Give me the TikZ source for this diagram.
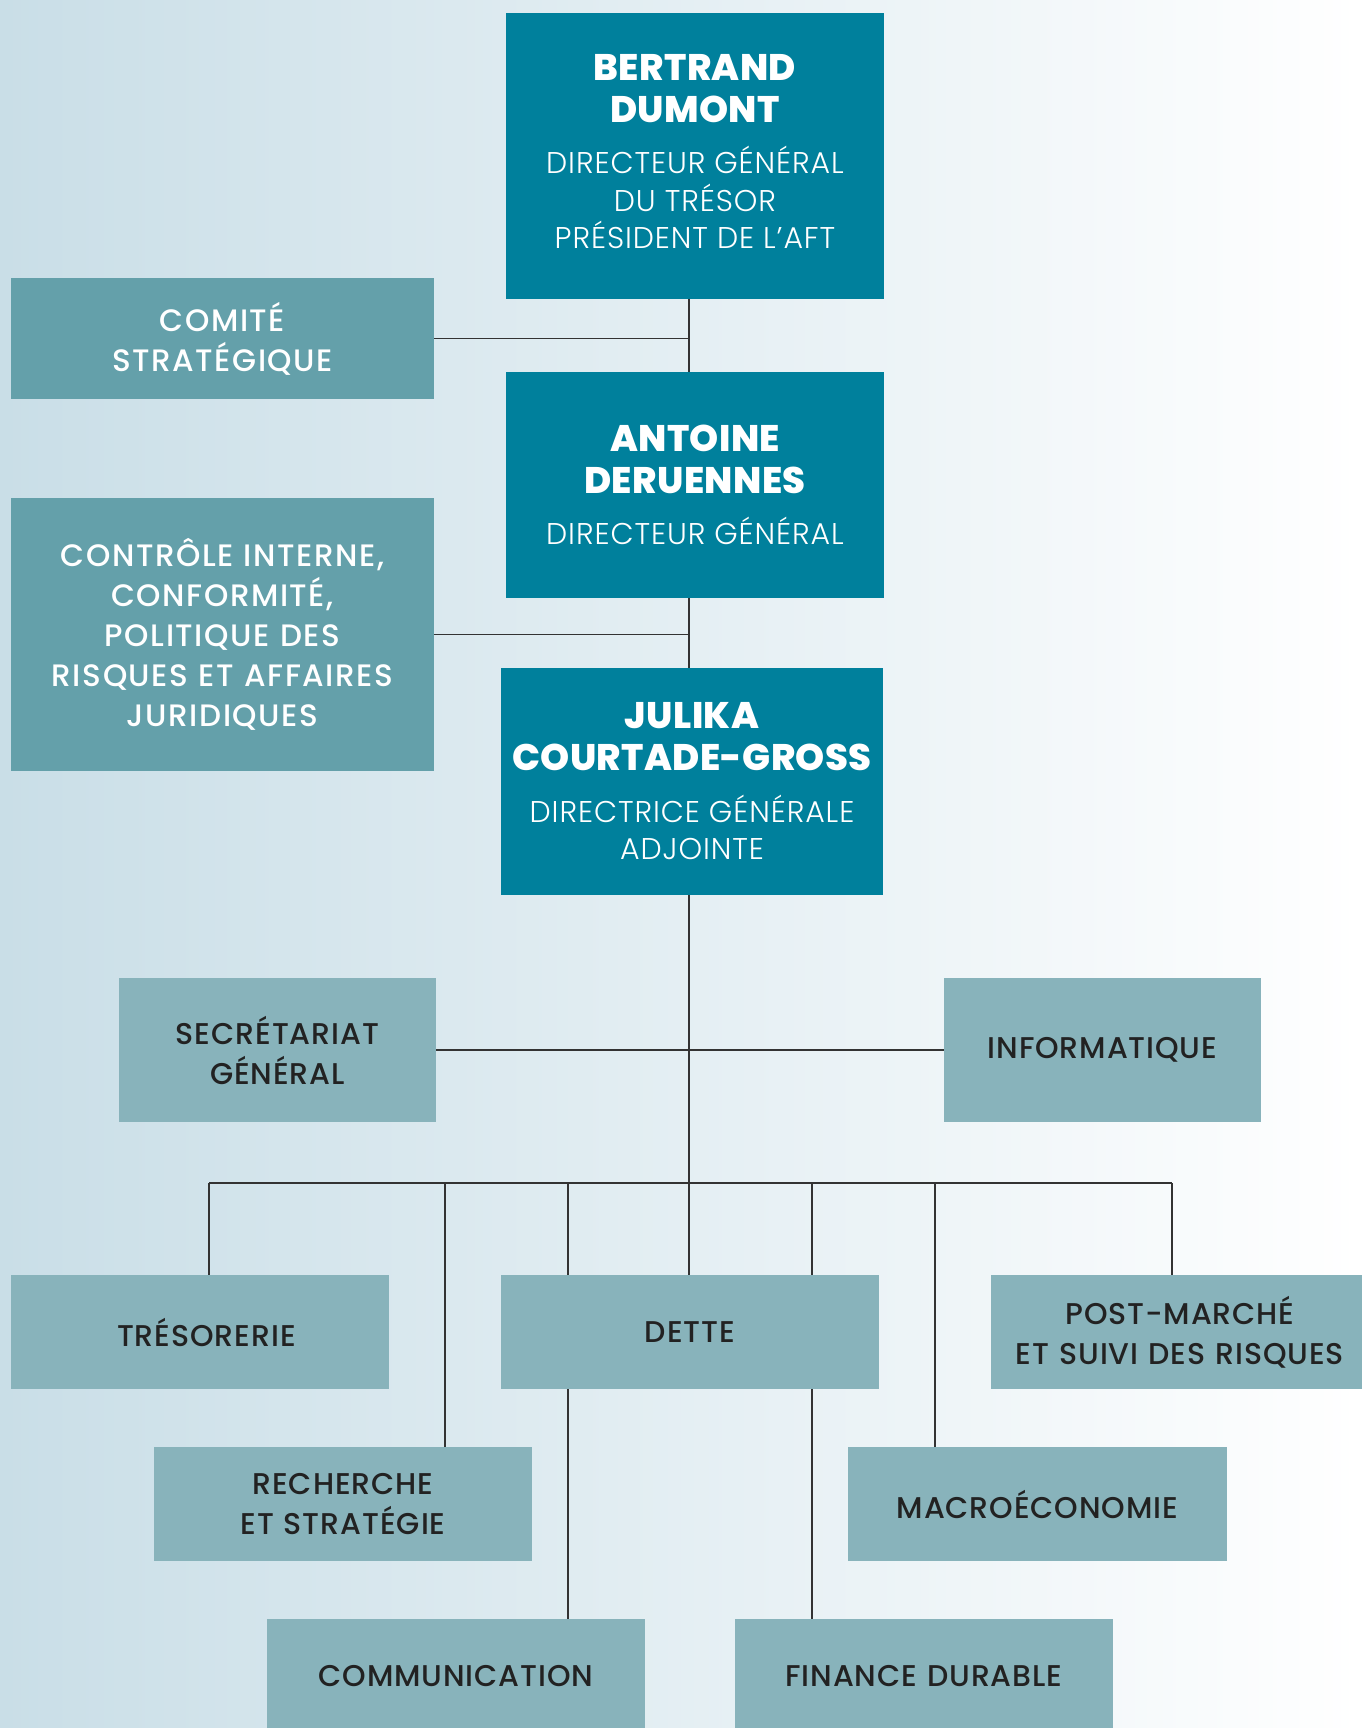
\documentclass[tikz,border=0pt]{standalone}
\usepackage{fontspec}
\setmainfont{Poppins}
\newfontfamily\namefont{Poppins ExtraBold}[LetterSpace=1]
\newfontfamily\lightfont{Poppins Light}[LetterSpace=3]
\newfontfamily\sidefont{Poppins Medium}[LetterSpace=5,WordSpace=1.3]
\newfontfamily\medfont{Poppins Medium}[LetterSpace=3]
\definecolor{bgL}{HTML}{C9DEE7}
\definecolor{bgR}{HTML}{FFFFFF}
\definecolor{dark}{HTML}{00809C}
\definecolor{mid}{HTML}{64A0AA}
\definecolor{pale}{HTML}{88B3BB}
\definecolor{ink}{HTML}{222222}
\definecolor{lin}{HTML}{333333}
\tikzset{
  topbox/.style={fill=dark, text=white, inner sep=0pt, text width=370pt, align=center},
  sidebox/.style={fill=mid, text=white, inner sep=0pt, text width=410pt, align=center, font=\sidefont\fontsize{31}{40}\selectfont},
  unitbox/.style={fill=pale, text=ink, inner sep=0pt, text width=300pt, align=center, font=\medfont\fontsize{30}{40}\selectfont},
  conn/.style={draw=lin, line width=1.3pt},
}
\newcommand{\nmtxt}[1]{{\namefont\fontsize{37}{42}\selectfont #1\par}}
\newcommand{\subtxt}[1]{{\lightfont\fontsize{30}{37.5}\selectfont\spaceskip=9pt\relax #1\par}}
\begin{document}
\begin{tikzpicture}[x=1pt,y=-1pt]
\useasboundingbox (0,0) rectangle (1361,1728);
\shade[left color=bgL, right color=bgR] (0,0) rectangle (1361,1728);
\coordinate (sp) at (689,0);
% top boxes
\node[topbox, minimum width=378pt, minimum height=286pt] (bert) at (695,156)
  {\nmtxt{BERTRAND\\DUMONT}\vspace{14pt}\subtxt{DIRECTEUR GÉNÉRAL\\DU TRÉSOR\\PRÉSIDENT DE L’AFT}\vspace{9pt}};
\node[topbox, minimum width=378pt, minimum height=226pt] (ant) at (695,485)
  {\nmtxt{ANTOINE\\DERUENNES}\vspace{14pt}\subtxt{DIRECTEUR GÉNÉRAL}};
\node[topbox, minimum width=382pt, minimum height=227pt] (jul) at (692,781.5)
  {\nmtxt{JULIKA\\COURTADE-GROSS}\vspace{14pt}\subtxt{DIRECTRICE GÉNÉRALE\\ADJOINTE}};
% side boxes
\node[sidebox, minimum width=423pt, minimum height=121pt] (comite) at (222.5,338.5)
  {COMITÉ\\STRATÉGIQUE};
\node[sidebox, minimum width=423pt, minimum height=273pt] (ctrl) at (222.5,634.5)
  {CONTRÔLE INTERNE,\\CONFORMITÉ,\\POLITIQUE DES\\RISQUES ET AFFAIRES\\JURIDIQUES};
% unit boxes
\node[unitbox, minimum width=317pt, minimum height=144pt] (sg) at (277.5,1050)
  {SECRÉTARIAT\\GÉNÉRAL};
\node[unitbox, minimum width=317pt, minimum height=144pt] (info) at (1102.5,1050)
  {INFORMATIQUE};
\node[unitbox, minimum width=378pt, minimum height=114pt] (treso) at (200,1332)
  {\hspace*{13pt}TRÉSORERIE};
\node[unitbox, minimum width=378pt, minimum height=114pt] (dette) at (690,1332)
  {DETTE};
\node[unitbox, minimum width=378pt, minimum height=114pt, text width=360pt] (post) at (1180,1332)
  {POST-MARCHÉ\\ET SUIVI DES RISQUES};
\node[unitbox, minimum width=378pt, minimum height=114pt] (rech) at (343,1504)
  {RECHERCHE\\ET STRATÉGIE};
\node[unitbox, minimum width=379pt, minimum height=114pt] (macro) at (1037.5,1504)
  {MACROÉCONOMIE};
\node[unitbox, minimum width=378pt, minimum height=114pt] (comm) at (456,1676)
  {COMMUNICATION};
\node[unitbox, minimum width=378pt, minimum height=114pt] (fin) at (924,1676)
  {FINANCE DURABLE};
% bus coordinates
\coordinate (b1) at (209,1183);
\coordinate (b2) at (445,1183);
\coordinate (b3) at (568,1183);
\coordinate (b4) at (689,1183);
\coordinate (b5) at (812,1183);
\coordinate (b6) at (935,1183);
\coordinate (b7) at (1172,1183);
% connectors
\draw[conn] (bert.south -| sp) -- (ant.north -| sp);
\draw[conn] (comite.east) -- (comite.east -| sp);
\draw[conn] (ant.south -| sp) -- (jul.north -| sp);
\draw[conn] (ctrl.east) -- (ctrl.east -| sp);
\draw[conn] (jul.south -| sp) -- (b4);
\draw[conn] (sg.east) -- (info.west);
\draw[conn] (b1) -- (b7);
\draw[conn] (b1) -- (b1 |- treso.north);
\draw[conn] (b2) -- (b2 |- rech.north);
\draw[conn] (b3) -- (b3 |- dette.north);
\draw[conn] (b4) -- (b4 |- dette.north);
\draw[conn] (b5) -- (b5 |- dette.north);
\draw[conn] (b6) -- (b6 |- macro.north);
\draw[conn] (b7) -- (b7 |- post.north);
\draw[conn] (b3 |- dette.south) -- (b3 |- comm.north);
\draw[conn] (b5 |- dette.south) -- (b5 |- fin.north);
\end{tikzpicture}
\end{document}
